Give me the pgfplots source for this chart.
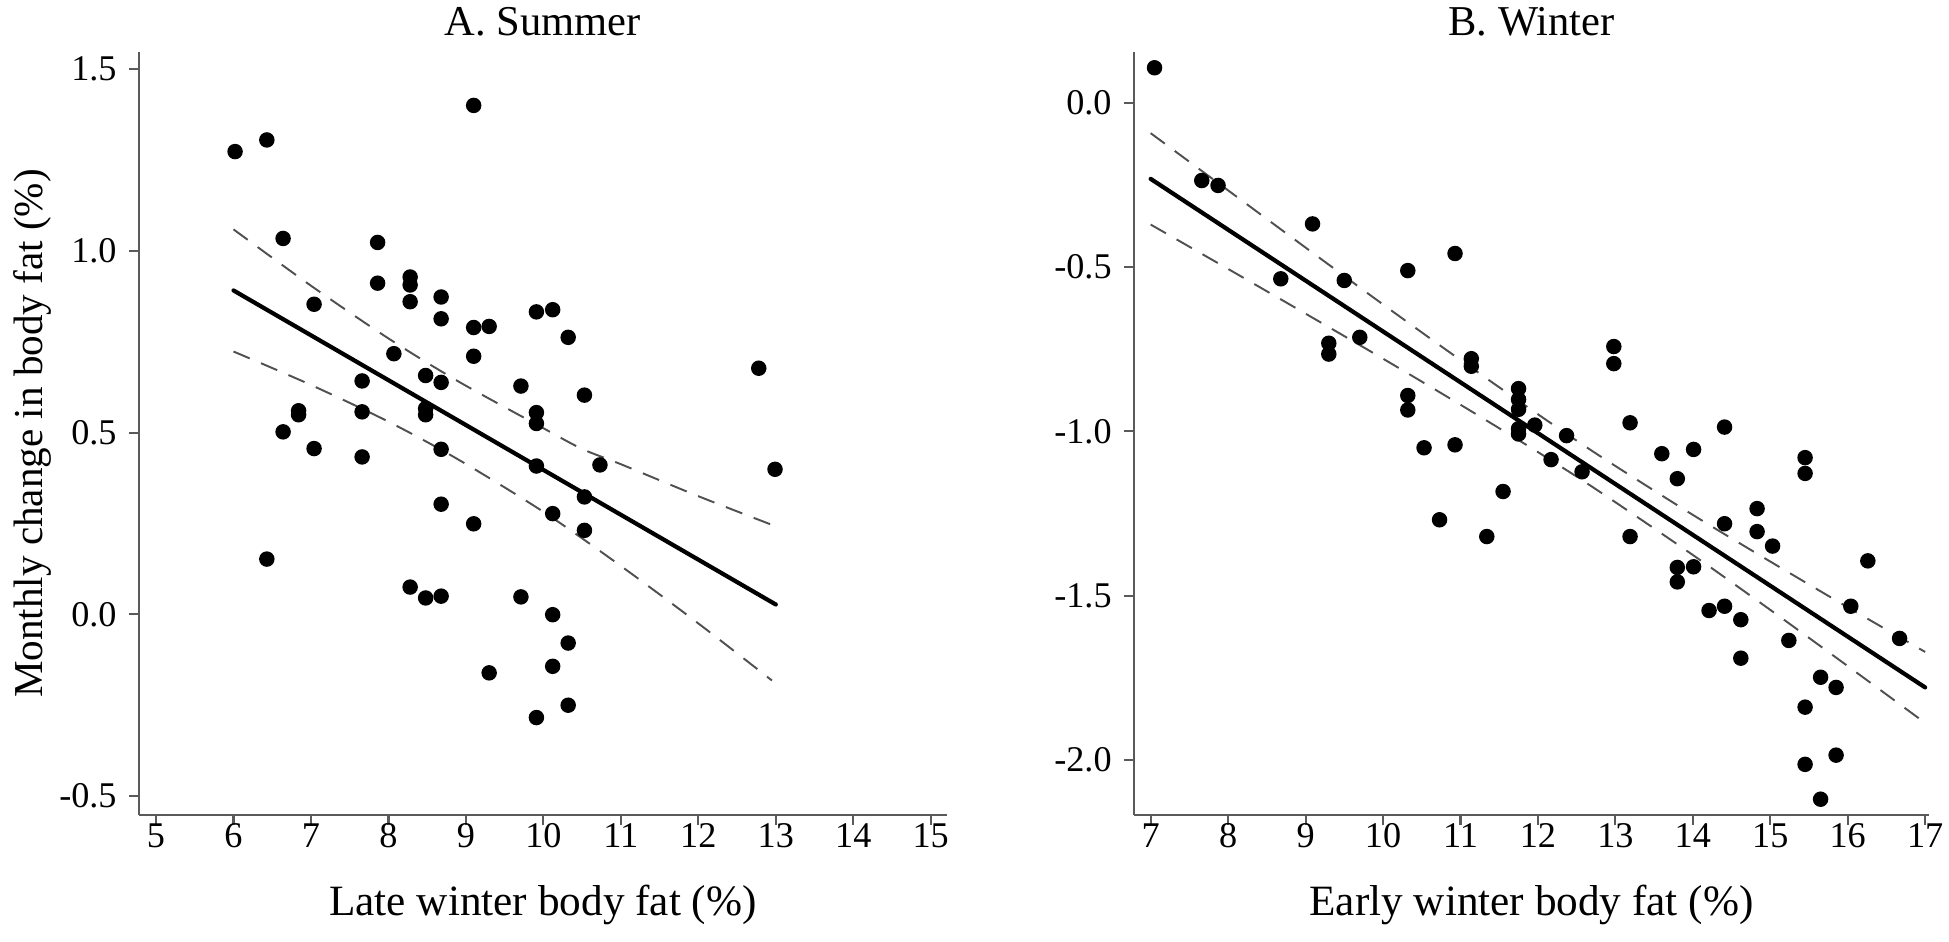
\documentclass[border=0pt]{standalone}
\usepackage{fontspec}
\setmainfont{Liberation Serif}
\usepackage{pgfplots}
\pgfplotsset{compat=1.18}
\definecolor{axgray}{HTML}{5A5A5A}
\definecolor{dashgray}{HTML}{505050}

\pgfplotsset{
  myax/.style={
    scale only axis,
    height=76.3mm,
    axis lines=left,
    axis line style={-, axgray, line width=0.6pt},
    x axis line style={-}, y axis line style={-},
    tick align=outside,
    major tick length=1mm,
    tick style={axgray, line width=0.6pt},
    /pgf/number format/assume math mode=true,
    ticklabel style={font=\fontsize{10.3}{12}\selectfont},
    xlabel style={font=\fontsize{12.3}{15}\selectfont, at={(axis description cs:0.5,0)}, anchor=center, yshift=-9mm},
    ylabel style={font=\fontsize{11.7}{14}\selectfont},
    title style={font=\fontsize{12.1}{14}\selectfont, at={(axis description cs:0.5,1)}, anchor=center, yshift=0.9mm},
    yticklabel style={/pgf/number format/.cd, fixed, fixed zerofill, precision=1},
    xticklabel style={yshift=1.4mm, /pgf/number format/.cd, fixed, precision=0},
    clip=false,
  },
  dots/.style={only marks, mark=*, mark size=2.0pt, black},
  fit/.style={black, line width=1.2pt, line cap=round},
  ci/.style={dashgray, line width=0.55pt, dash pattern=on 5pt off 3.5pt, smooth},
}

\begin{document}
\begin{tikzpicture}
\useasboundingbox (0,0) rectangle (194.9mm,94.2mm);

% ---------------- A. Summer ----------------
\begin{axis}[myax,
  at={(13.9mm,12.7mm)}, anchor=south west,
  width=80.8mm,
  xmin=4.78, xmax=15.21, ymin=-0.552, ymax=1.547,
  xtick={5,6,...,15},
  ytick={-0.5,0,0.5,1,1.5},
  title={A. Summer},
  xlabel={Late winter body fat (\%)},
  ylabel={Monthly change in body fat (\%)},
  ylabel style={at={(axis description cs:-0.132,0.5)}, anchor=center},
]
\addplot[dots] table {
x y
6.02 1.273
6.43 1.305
6.43 0.152
6.64 1.034
6.64 0.502
6.84 0.560
6.84 0.549
7.04 0.853
7.04 0.456
7.66 0.642
7.66 0.557
7.66 0.433
7.86 1.023
7.86 0.911
8.07 0.717
8.28 0.928
8.28 0.906
8.28 0.860
8.28 0.075
8.48 0.657
8.48 0.566
8.48 0.549
8.48 0.045
8.68 0.873
8.68 0.813
8.68 0.638
8.68 0.454
8.68 0.303
8.68 0.050
9.10 1.400
9.10 0.789
9.10 0.710
9.10 0.249
9.30 0.792
9.30 -0.161
9.71 0.628
9.71 0.048
9.91 0.832
9.91 0.555
9.91 0.525
9.91 0.408
9.91 -0.284
10.12 0.838
10.12 0.277
10.12 -0.001
10.12 -0.143
10.32 0.762
10.32 -0.079
10.32 -0.250
10.53 0.603
10.53 0.323
10.53 0.231
10.73 0.411
12.78 0.677
12.99 0.399
};
\addplot[fit] coordinates {(6.0,0.891) (13.0,0.027)};
\addplot[ci] coordinates {(6,1.059) (7,0.904) (8,0.759) (8.9,0.641) (10,0.512) (10.5,0.455) (11,0.413) (12,0.325) (13,0.242)};
\addplot[ci] coordinates {(6,0.723) (7,0.631) (8,0.530) (8.9,0.426) (10,0.282) (11,0.133) (12,-0.025) (12.95,-0.182)};
\end{axis}

% ---------------- B. Winter ----------------
\begin{axis}[myax,
  at={(113.4mm,12.7mm)}, anchor=south west,
  width=79.5mm,
  xmin=6.785, xmax=17.05, ymin=-2.167, ymax=0.154,
  xtick={7,8,...,17},
  ytick={-2,-1.5,-1,-0.5,0},
  title={B. Winter},
  xlabel={Early winter body fat (\%)},
]
\addplot[dots] table {
x y
7.05 0.106
7.66 -0.237
7.87 -0.252
8.68 -0.536
9.09 -0.369
9.30 -0.732
9.30 -0.765
9.50 -0.541
9.70 -0.714
10.32 -0.511
10.32 -0.891
10.32 -0.935
10.53 -1.050
10.73 -1.269
10.93 -0.459
10.93 -1.041
11.14 -0.779
11.14 -0.802
11.34 -1.320
11.55 -1.183
11.75 -0.870
11.75 -0.903
11.75 -0.933
11.75 -0.992
11.75 -1.008
11.96 -0.981
12.17 -1.086
12.37 -1.013
12.57 -1.123
12.98 -0.742
12.98 -0.794
13.19 -0.974
13.19 -1.320
13.60 -1.068
13.80 -1.144
13.80 -1.414
13.80 -1.458
14.01 -1.055
14.01 -1.412
14.21 -1.545
14.41 -0.987
14.41 -1.281
14.41 -1.532
14.62 -1.573
14.62 -1.690
14.83 -1.235
14.83 -1.305
15.03 -1.349
15.24 -1.636
15.45 -1.080
15.45 -1.128
15.45 -1.839
15.45 -2.013
15.65 -1.748
15.65 -2.119
15.85 -1.779
15.85 -1.985
16.04 -1.532
16.26 -1.394
16.67 -1.630
};
\addplot[fit] coordinates {(7.0,-0.232) (17.0,-1.779)};
\addplot[ci] coordinates {(7,-0.093) (8,-0.267) (9,-0.441) (10,-0.614) (11,-0.783) (12,-0.948) (12.8,-1.075) (14,-1.254) (15,-1.396) (16,-1.535) (17,-1.671)};
\addplot[ci] coordinates {(7,-0.371) (8,-0.506) (9,-0.642) (10,-0.779) (11,-0.919) (12,-1.063) (12.8,-1.184) (14,-1.376) (15,-1.543) (16,-1.714) (17,-1.887)};
\end{axis}
\end{tikzpicture}
\end{document}
